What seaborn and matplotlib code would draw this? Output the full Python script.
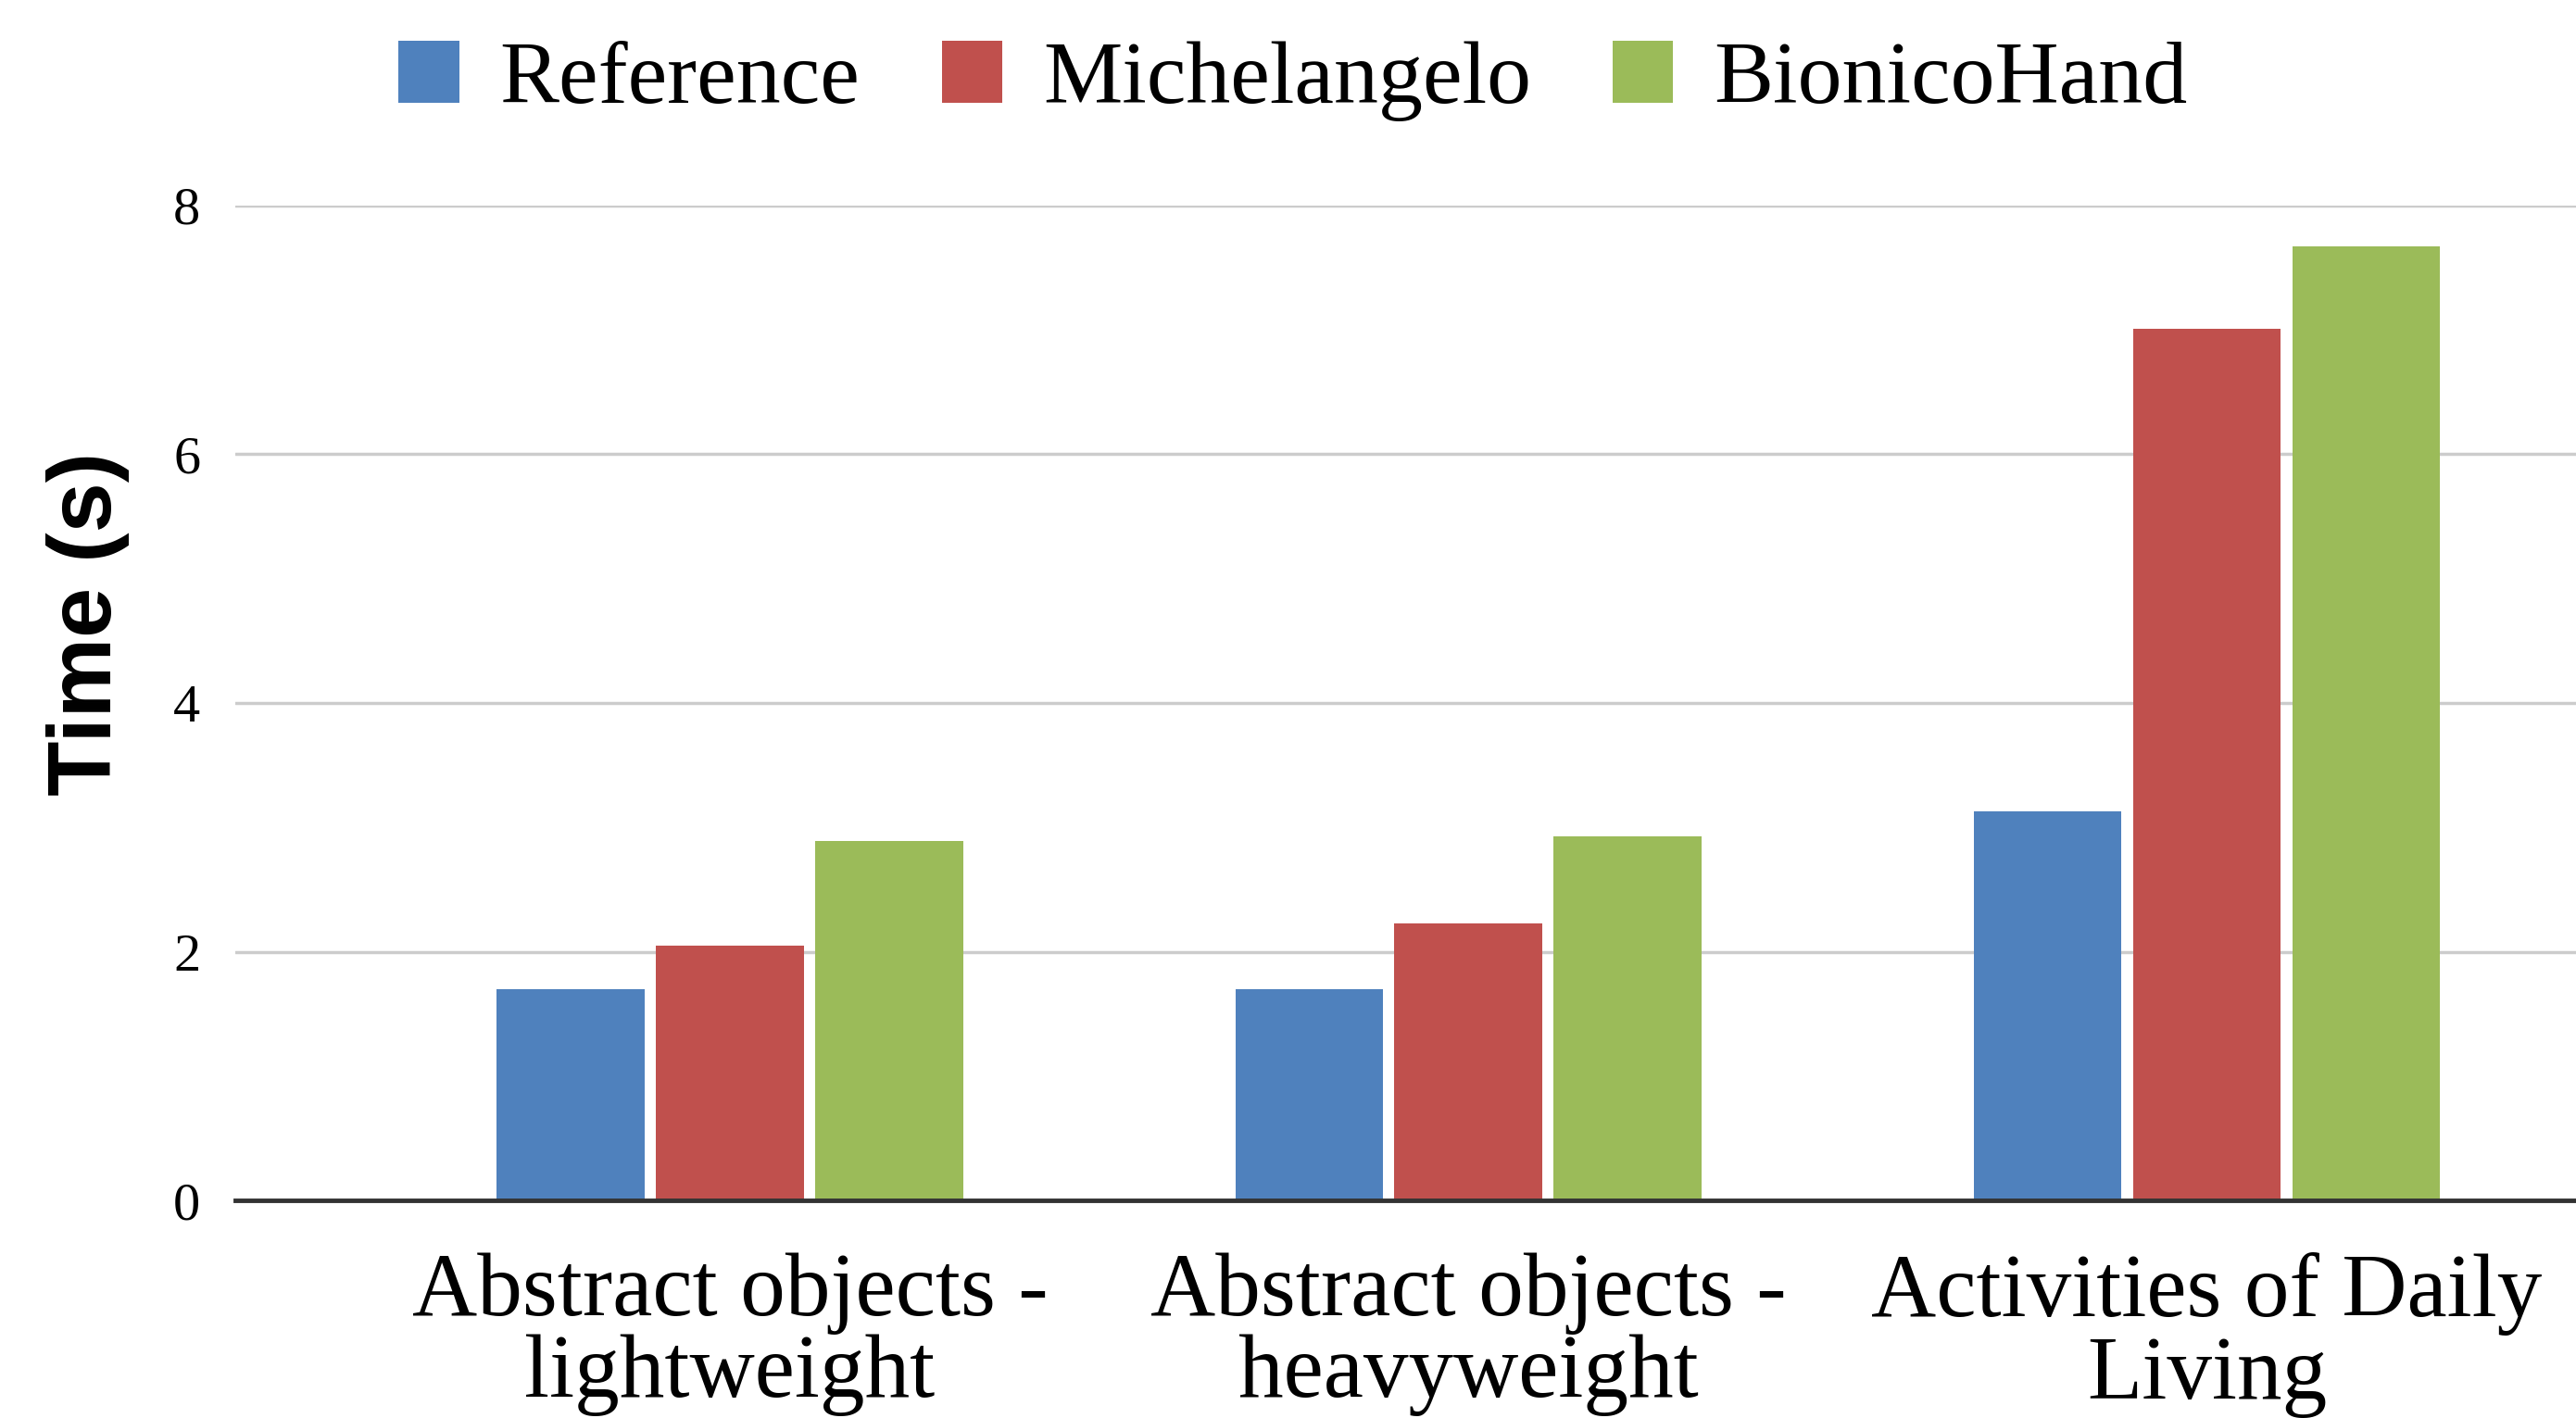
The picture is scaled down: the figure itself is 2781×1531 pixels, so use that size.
import matplotlib
matplotlib.use("Agg")
import matplotlib.pyplot as plt
import seaborn as sns
import pandas as pd

categories = ["Abstract objects -\nlightweight", "Abstract objects -\nheavyweight", "Activities of Daily\nLiving"]
series_names = ["Reference", "Michelangelo", "BionicoHand"]
reference = [1.70, 1.70, 3.13]
michelangelo = [2.05, 2.23, 7.01]
bionicohand = [2.89, 2.93, 7.67]
colors = ["#4f81bd", "#c0504d", "#9bbb59"]
y_ticks = [0, 2, 4, 6, 8]

rows = []
for name, vals in zip(series_names, [reference, michelangelo, bionicohand]):
    for c, v in zip(categories, vals):
        rows.append({"category": c, "series": name, "value": v})
df = pd.DataFrame(rows)

sns.set_theme(style="white")
fig = plt.figure(figsize=(27.81, 15.31), dpi=100)
ax = fig.add_axes([0.0913, 0.1532, 0.9087, 0.702])

sns.barplot(data=df, x="category", y="value", hue="series", order=categories,
            hue_order=series_names, palette=colors, width=0.647, gap=0.072,
            linewidth=0, saturation=1, ax=ax)

ax.set_ylim(0, 8)
ax.set_xlim(-0.67, 2.5)
ax.set_yticks(y_ticks)
ax.yaxis.grid(True, color="#cccccc", linewidth=2.5)
ax.set_axisbelow(True)
for s in ["top", "right", "left"]:
    ax.spines[s].set_visible(False)
ax.spines["bottom"].set_color("#333333")
ax.spines["bottom"].set_linewidth(3.5)
ax.spines["bottom"].set_zorder(5)

ax.tick_params(axis="y", length=0, pad=27, labelsize=42, labelcolor="black")
ax.tick_params(axis="x", length=0, pad=40, labelsize=70, labelcolor="black")
for lab in ax.get_yticklabels():
    lab.set_fontfamily("Liberation Serif")
for lab in ax.get_xticklabels():
    lab.set_fontfamily("Liberation Serif")
    lab.set_linespacing(1.0)

ax.set_xlabel("")
ax.set_ylabel("Time (s)", fontsize=70, fontweight="bold", family="Liberation Sans", color="black")
ax.yaxis.set_label_coords(-0.045, 0.58)

handles, labels = ax.get_legend_handles_labels()
if ax.get_legend() is not None:
    ax.get_legend().remove()
leg = fig.legend(handles, labels, loc="center", bbox_to_anchor=(0.502, 0.943), ncol=3,
                 frameon=False, prop={"family": "Liberation Serif", "size": 69},
                 handlelength=0.68, handleheight=0.7, handletextpad=0.46, columnspacing=0.92)
for t in leg.get_texts():
    t.set_color("black")

fig.savefig("out.png", dpi=100, facecolor="white")
